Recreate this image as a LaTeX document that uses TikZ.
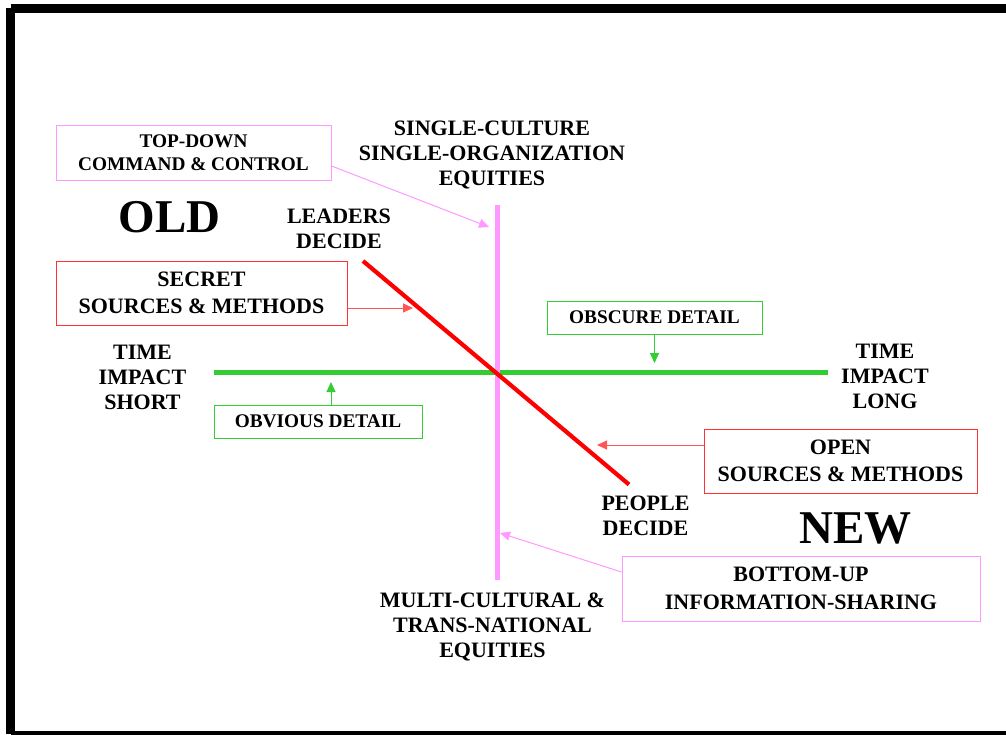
\documentclass[tikz,border=0pt]{standalone}
\usepackage{fontspec}
\setmainfont{Liberation Serif}
\usetikzlibrary{arrows.meta}
\definecolor{pinkv}{HTML}{FF99FF}
\definecolor{grn}{HTML}{33CC33}
\definecolor{redl}{HTML}{FF3333}
\definecolor{reda}{HTML}{FF5555}
\begin{document}
\begin{tikzpicture}[x=1pt,y=-1pt,
  lbl/.style={font=\bfseries\fontsize{22}{25}\selectfont, align=center, inner sep=0pt},
  big/.style={font=\bfseries\fontsize{47}{50}\selectfont, inner sep=0pt},
  boxa/.style={draw, line width=1pt, align=center, inner sep=0pt, font=\bfseries\fontsize{22}{27.5}\selectfont},
  boxb/.style={draw, line width=1pt, align=center, inner sep=0pt, font=\bfseries\fontsize{19.3}{23}\selectfont},
  arr/.style={line width=1pt, -{Triangle[length=10pt,width=9pt]}}
]
\useasboundingbox (0,0) rectangle (1006,734);
% frame
\draw[line width=8.5pt] (10.5,8.3) -- (10.5,734) (10.5,8.3) -- (1012,8.3);
\draw[line width=8pt] (10.5,734.5) -- (1012,734.5);

% axes
\coordinate (gL) at (214,372.5);
\coordinate (gR) at (828,372.5);
\coordinate (pT) at (497.5,205);
\coordinate (pB) at (497.5,580);
\coordinate (rT) at (363,261);
\coordinate (rB) at (629,484.5);
\draw[grn, line width=5pt] (gL) -- (gR);
\draw[pinkv, line width=5pt] (pT) -- (pB);
\draw[red, line width=4.2pt] (rT) -- (rB);

% labels
\node[lbl] (single) at (492,155) {SINGLE-CULTURE\\SINGLE-ORGANIZATION\\EQUITIES};
\node[lbl] (multi) at (492.5,627) {MULTI-CULTURAL \&\\TRANS-NATIONAL\\EQUITIES};
\node[lbl] (leaders) at (339,228.5) {LEADERS\\DECIDE};
\node[lbl] (people) at (645.5,516) {PEOPLE\\DECIDE};
\node[lbl] (tshort) at (142.5,377) {TIME\\IMPACT\\SHORT};
\node[lbl] (tlong) at (885,376.5) {TIME\\IMPACT\\LONG};
\node[big] (old) at (169.5,217) {OLD};
\node[big] (new) at (855.5,528) {NEW};

% boxes
\node[boxb, draw=pinkv, minimum width=275pt, minimum height=55pt] (topdown) at (193.5,152.5) {TOP-DOWN\\COMMAND \& CONTROL};
\node[boxa, draw=redl, minimum width=291pt, minimum height=64pt] (secret) at (201.5,293) {SECRET\\SOURCES \& METHODS};
\node[boxb, draw=grn, minimum width=215pt, minimum height=33pt] (obscure) at (654.5,317.5) {OBSCURE DETAIL};
\node[boxb, draw=grn, minimum width=208pt, minimum height=33pt] (obvious) at (318,421.5) {OBVIOUS DETAIL};
\node[boxa, draw=redl, minimum width=273pt, minimum height=64pt] (open) at (840.5,461) {OPEN\\SOURCES \& METHODS};
\node[boxa, draw=pinkv, minimum width=358pt, minimum height=65pt] (bottomup) at (801,588.5) {BOTTOM-UP\\INFORMATION-SHARING};

% arrow ends
\coordinate (tdS) at ([yshift=-13.5pt]topdown.east);
\coordinate (tdE) at (489,227);
\coordinate (seS) at ([yshift=-15pt]secret.east);
\coordinate (seE) at (413,308);
\coordinate (obE) at (654.5,363);
\coordinate (ovS) at ([xshift=13pt]obvious.north);
\coordinate (ovE) at (331,382);
\coordinate (opS) at ([yshift=16pt]open.west);
\coordinate (opE) at (597,445);
\coordinate (buS) at ([yshift=16.5pt]bottomup.west);
\coordinate (buE) at (500,533);

\draw[arr, pinkv] (tdS) -- (tdE);
\draw[arr, reda] (seS) -- (seE);
\draw[arr, grn] (obscure.south) -- (obE);
\draw[arr, grn] (ovS) -- (ovE);
\draw[arr, reda] (opS) -- (opE);
\draw[arr, pinkv] (buS) -- (buE);
\end{tikzpicture}
\end{document}
